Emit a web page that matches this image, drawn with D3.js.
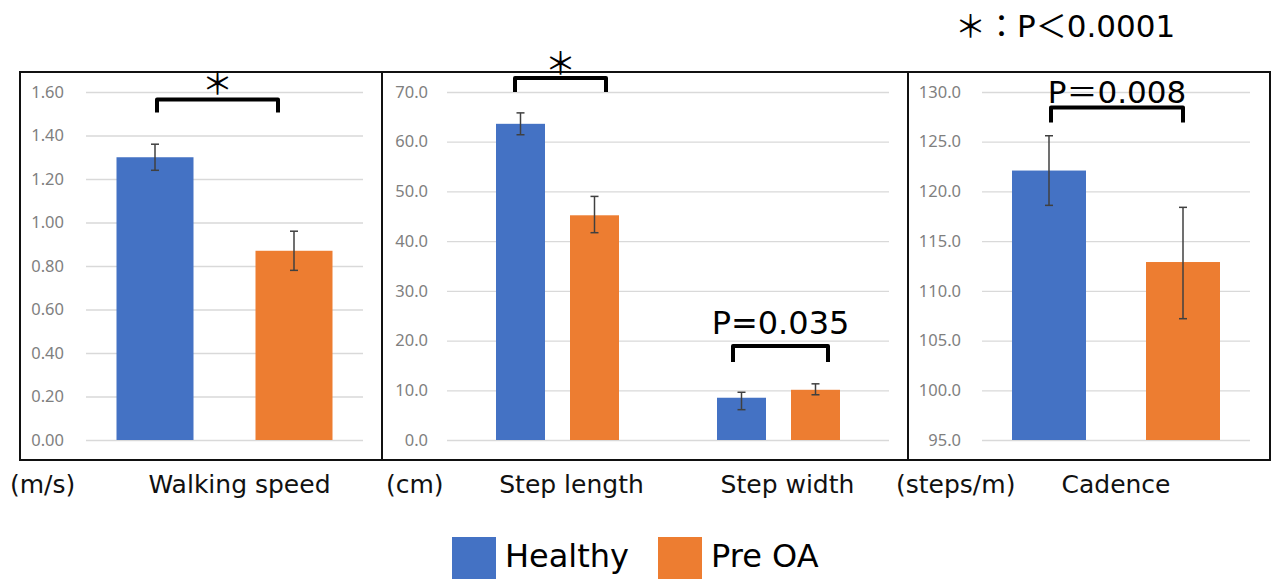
<!DOCTYPE html>
<html><head><meta charset="utf-8">
<script src="https://cdn.jsdelivr.net/npm/d3@7"></script>
<style>body{margin:0;background:#fff} svg{display:block}</style>
</head><body><svg id="c" width="1271" height="579"></svg>
<script>
// ---------------- data ----------------
const groups = ["Healthy", "Pre OA"];
const groupColors = ["#4472C4", "#ED7D31"];

// Panel 1 : walking speed (m/s)
const speedCategories = ["Walking speed"];
const speedHealthy = [1.30];
const speedPreOA = [0.87];
const speedHealthyErrUp = [0.06], speedHealthyErrDown = [0.06];
const speedPreOAErrUp = [0.09], speedPreOAErrDown = [0.09];
const speedTicks = [0, 0.2, 0.4, 0.6, 0.8, 1.0, 1.2, 1.4, 1.6];

// Panel 2 : step length / step width (cm)
const stepCategories = ["Step length", "Step width"];
const stepHealthy = [63.6, 8.5];
const stepPreOA = [45.2, 10.1];
const stepHealthyErrUp = [2.2, 1.1], stepHealthyErrDown = [2.2, 2.4];
const stepPreOAErrUp = [3.8, 1.2], stepPreOAErrDown = [3.5, 1.0];
const stepTicks = [0, 10, 20, 30, 40, 50, 60, 70];

// Panel 3 : cadence (steps/m)
const cadenceCategories = ["Cadence"];
const cadenceHealthy = [122.1];
const cadencePreOA = [112.9];
const cadenceHealthyErrUp = [3.5], cadenceHealthyErrDown = [3.5];
const cadencePreOAErrUp = [5.5], cadencePreOAErrDown = [5.7];
const cadenceTicks = [95, 100, 105, 110, 115, 120, 125, 130];

const units = ["(m/s)", "(cm)", "(steps/m)"];
const annotationCats = ["Walking speed", "Step length", "Step width", "Cadence"];
const annotationPanels = [0, 1, 1, 2];
const annotationTexts = ["＊", "＊", "P=0.035", "P＝0.008"];
const significanceNote = "＊：P＜0.0001";

// ---------------- layout ----------------
const FONT = "'DejaVu Sans','Noto Sans CJK JP',sans-serif";
const svg = d3.select("#c");
const yTop = 92, yBot = 440;
const frame = {x0: 20, x1: 1270, y0: 72, y1: 460};

const panels = [
  {cats: speedCategories, h: speedHealthy, p: speedPreOA,
   hu: speedHealthyErrUp, hd: speedHealthyErrDown, pu: speedPreOAErrUp, pd: speedPreOAErrDown,
   ticks: speedTicks, domain: [0, 1.6], fmt: ".2f",
   x0: 20, x1: 382, gx0: 86, gx1: 363, barW: 77, spacing: 139, tickPad: 22, unitX: 10, labelDx: [15]},
  {cats: stepCategories, h: stepHealthy, p: stepPreOA,
   hu: stepHealthyErrUp, hd: stepHealthyErrDown, pu: stepPreOAErrUp, pd: stepPreOAErrDown,
   ticks: stepTicks, domain: [0, 70], fmt: ".1f",
   x0: 382, x1: 908, gx0: 447, gx1: 889, barW: 49, spacing: 74, tickPad: 19, unitX: 386, labelDx: [14, 9]},
  {cats: cadenceCategories, h: cadenceHealthy, p: cadencePreOA,
   hu: cadenceHealthyErrUp, hd: cadenceHealthyErrDown, pu: cadencePreOAErrUp, pd: cadencePreOAErrDown,
   ticks: cadenceTicks, domain: [95, 130], fmt: ".1f",
   x0: 908, x1: 1270, gx0: 982, gx1: 1250, barW: 74, spacing: 134, tickPad: 21, unitX: 896, labelDx: [0]}
];

const scales = [];

panels.forEach((P, pi) => {
  const g = svg.append("g");
  const y = d3.scaleLinear().domain(P.domain).range([yBot, yTop]);
  const x = d3.scaleBand().domain(P.cats).range([P.gx0, P.gx1]).padding(0);
  const half = P.spacing / 2 + P.barW / 2;
  const inner = d3.scaleBand().domain(groups).range([-half, half])
    .paddingInner((P.spacing - P.barW) / P.spacing).paddingOuter(0);
  scales.push({x, y, inner});

  // grid + tick labels
  const axis = d3.axisLeft(y).tickValues(P.ticks).tickFormat(d3.format(P.fmt))
    .tickSize(-(P.gx1 - P.gx0)).tickPadding(P.tickPad);
  const ag = g.append("g").attr("transform", `translate(${P.gx0},0)`).call(axis);
  ag.select(".domain").remove();
  ag.selectAll(".tick line").attr("stroke", "#d9d9d9").attr("stroke-width", 1.3);
  ag.selectAll(".tick text").attr("fill", "#7f7f7f")
    .style("font-family", "'Noto Sans',sans-serif").style("font-size", "16.5px");

  // bars
  const rows = [];
  P.cats.forEach((c, i) => {
    rows.push({c, gi: 0, v: P.h[i], up: P.hu[i], dn: P.hd[i]});
    rows.push({c, gi: 1, v: P.p[i], up: P.pu[i], dn: P.pd[i]});
  });
  const base = P.domain[0];
  const cx = d => x(d.c) + x.bandwidth() / 2 + inner(groups[d.gi]);
  g.selectAll("rect.bar").data(rows).join("rect").attr("class", "bar")
    .attr("x", d => cx(d)).attr("width", inner.bandwidth())
    .attr("y", d => y(d.v)).attr("height", d => y(base) - y(d.v))
    .attr("fill", d => groupColors[d.gi]);

  // error bars
  const eg = g.selectAll("g.err").data(rows).join("g").attr("class", "err")
    .attr("stroke", "#404040").attr("stroke-width", 1.5);
  const mid = d => cx(d) + inner.bandwidth() / 2;
  eg.append("line").attr("x1", mid).attr("x2", mid)
    .attr("y1", d => y(d.v + d.up)).attr("y2", d => y(d.v - d.dn));
  eg.append("line").attr("x1", d => mid(d) - 4).attr("x2", d => mid(d) + 4)
    .attr("y1", d => y(d.v + d.up)).attr("y2", d => y(d.v + d.up));
  eg.append("line").attr("x1", d => mid(d) - 4).attr("x2", d => mid(d) + 4)
    .attr("y1", d => y(d.v - d.dn)).attr("y2", d => y(d.v - d.dn));

  // category labels + unit
  P.cats.forEach((c, i) => {
    svg.append("text").attr("x", x(c) + x.bandwidth() / 2 + P.labelDx[i]).attr("y", 493)
      .attr("text-anchor", "middle").style("font-family", FONT).style("font-size", "25px")
      .attr("fill", "#111").text(c);
  });
  svg.append("text").attr("x", P.unitX).attr("y", 493)
    .style("font-family", FONT).style("font-size", "25px").attr("fill", "#111").text(units[pi]);
});

// frame
svg.append("rect").attr("x", frame.x0).attr("y", frame.y0)
  .attr("width", frame.x1 - frame.x0).attr("height", frame.y1 - frame.y0)
  .attr("fill", "none").attr("stroke", "#111").attr("stroke-width", 2);
[panels[0].x1, panels[1].x1].forEach(xx => {
  svg.append("line").attr("x1", xx).attr("x2", xx).attr("y1", frame.y0).attr("y2", frame.y1)
    .attr("stroke", "#111").attr("stroke-width", 2);
});

// significance brackets
const bracketTop = [99.5, 78, 346, 107.5];
const bracketLeg = [13, 14, 16, 15];
const bracketDx = [-7, 3, 2, 1];
const bracketHalf = [60.5, 45.5, 47.5, 66];
const labelBaseline = [93.5, 74, 334, 103];
const labelSize = [31, 31, 32, 31];
annotationCats.forEach((c, i) => {
  const s = scales[annotationPanels[i]];
  const cxm = s.x(c) + s.x.bandwidth() / 2 + bracketDx[i];
  const xl = cxm - bracketHalf[i], xr = cxm + bracketHalf[i];
  const t = bracketTop[i], b = t + bracketLeg[i];
  svg.append("path").attr("d", `M${xl},${b}L${xl},${t}L${xr},${t}L${xr},${b}`)
    .attr("fill", "none").attr("stroke", "#000").attr("stroke-width", 4)
    .attr("stroke-linejoin", "round");
  svg.append("text").attr("x", cxm).attr("y", labelBaseline[i]).attr("text-anchor", "middle")
    .style("font-family", FONT).style("font-size", labelSize[i] + "px").attr("fill", "#000")
    .text(annotationTexts[i]);
});

// significance note
svg.append("text").attr("x", 955).attr("y", 37).style("font-family", FONT)
  .style("font-size", "31px").attr("fill", "#000").text(significanceNote);

// legend
const legX = [452, 658];
groups.forEach((gname, i) => {
  svg.append("rect").attr("x", legX[i]).attr("y", 537).attr("width", 44).attr("height", 42)
    .attr("fill", groupColors[i]);
  svg.append("text").attr("x", legX[i] + 53).attr("y", 567).style("font-family", FONT)
    .style("font-size", "32px").attr("fill", "#000").text(gname);
});
</script></body></html>
